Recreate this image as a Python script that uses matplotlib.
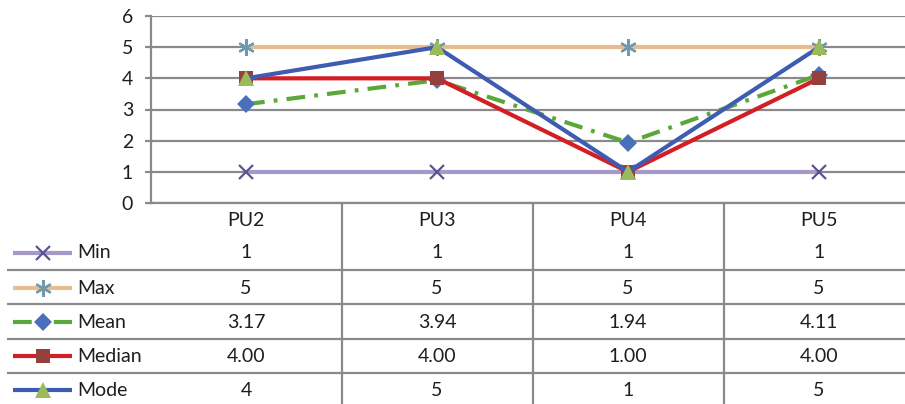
import matplotlib
matplotlib.use("Agg")
import matplotlib.pyplot as plt
import matplotlib.transforms as mtransforms

plt.rcParams['font.family'] = ['Lato', 'DejaVu Sans']

categories = ['PU2', 'PU3', 'PU4', 'PU5']
series_names = ['Min', 'Max', 'Mean', 'Median', 'Mode']
min_vals = [1, 1, 1, 1]
max_vals = [5, 5, 5, 5]
mean_vals = [3.17, 3.94, 1.94, 4.11]
median_vals = [4.00, 4.00, 1.00, 4.00]
mode_vals = [4, 5, 1, 5]
value_fmt = ['{:d}', '{:d}', '{:.2f}', '{:.2f}', '{:d}']
y_ticks = [0, 1, 2, 3, 4, 5, 6]

styles = {
    'Min': dict(color='#A698C8', ls='-', marker='x', mec='#5E5290', mfc='#5E5290', ms=10, mew=1.6),
    'Max': dict(color='#E9BC8E', ls='-', marker=(6, 2, 0), mec='#6E9AB0', mfc='#6E9AB0', ms=12, mew=1.6),
    'Mean': dict(color='#5AA83A', ls=(0, (4.5, 2.2, 0.9, 2.2)), marker='D', mec='#4A70BC', mfc='#4A70BC', ms=9, mew=0),
    'Median': dict(color='#D41E25', ls='-', marker='s', mec='#96403D', mfc='#96403D', ms=10, mew=0),
    'Mode': dict(color='#3D5CB2', ls='-', marker='^', mec='#9BBB59', mfc='#9BBB59', ms=11, mew=0),
}
values = [min_vals, max_vals, mean_vals, median_vals, mode_vals]

W, H = 905, 404
fs = 14
txt_c = '#1E1E1E'
fig = plt.figure(figsize=(W / 100, H / 100), dpi=100)

# plot area: x from 0..4 maps to one table column per category
left, right, top, bottom = 150.5, 914.5, 16, 203
ax = fig.add_axes([left / W, (H - bottom) / H, (right - left) / W, (bottom - top) / H])
ax.set_xlim(0, len(categories))
ax.set_ylim(0, 6)
ax.set_yticks(y_ticks)
ax.set_xticks([])
ax.yaxis.grid(True, color='#8A8A8A', lw=1.6)
ax.set_axisbelow(True)
for s in ['top', 'right']:
    ax.spines[s].set_visible(False)
for s in ['left', 'bottom']:
    ax.spines[s].set_color('#8A8A8A')
    ax.spines[s].set_linewidth(1.6)
ax.tick_params(axis='y', length=4.5, width=1.6, color='#8A8A8A', pad=8,
               labelsize=fs, labelcolor=txt_c)

xs = [i + 0.5 for i in range(len(categories))]
for name, vals in zip(series_names, values):
    st = styles[name]
    ax.plot(xs, vals, color=st['color'], ls=st['ls'], lw=3.0, marker=st['marker'],
            ms=st['ms'], mec=st['mec'], mfc=st['mfc'], mew=st['mew'],
            dash_capstyle='butt', solid_capstyle='butt', zorder=3)

# data table under the chart, in pixel coordinates
tb = fig.add_axes([0, 0, 1, 1], zorder=-1)
tb.set_xlim(0, W)
tb.set_ylim(H, 0)
tb.axis('off')
colx = mtransforms.blended_transform_factory(ax.transData, tb.transData)

grid_c = '#8A8A8A'
row_y = [253, 288, 322, 356, 390]
sep_y = [270, 304, 339, 373]
tb.hlines(sep_y, 7, W, color=grid_c, lw=1.6)
tb.vlines(range(1, len(categories) + 1), bottom, H, color=grid_c, lw=1.6, transform=colx)

for x, cat in zip(xs, categories):
    tb.text(x, 220, cat, transform=colx, ha='center', va='center', fontsize=fs, color=txt_c)

for name, vals, fmt, y in zip(series_names, values, value_fmt, row_y):
    st = styles[name]
    tb.plot([13, 72], [y, y], color=st['color'], ls=st['ls'], lw=3.0,
            dash_capstyle='butt', solid_capstyle='butt')
    tb.plot([43], [y], marker=st['marker'], ms=st['ms'], mec=st['mec'],
            mfc=st['mfc'], mew=st['mew'], ls='none')
    tb.text(77, y, name, ha='left', va='center', fontsize=fs, color=txt_c)
    for x, v in zip(xs, vals):
        tb.text(x, y, fmt.format(v), transform=colx, ha='center', va='center',
                fontsize=fs, color=txt_c)

fig.savefig('out.png', dpi=100)
